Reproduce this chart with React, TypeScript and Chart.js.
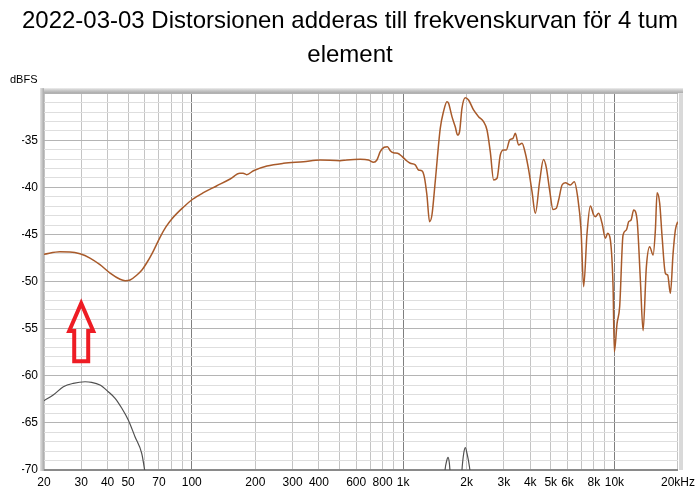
import React, { useEffect, useRef } from 'react';
import { Chart, registerables } from 'chart.js';

Chart.register(...registerables);

const TITLE_LINES = ['2022-03-03 Distorsionen adderas till frekvenskurvan för 4 tum', 'element'];
const Y_UNIT = 'dBFS';
const Y_MIN = -70;
const Y_MAX = -30;
const X_MIN = 20;
const X_MAX = 20000;

const X_GRID = [20, 30, 40, 50, 60, 70, 80, 90, 100, 200, 300, 400, 500, 600, 700, 800, 900,
  1000, 2000, 3000, 4000, 5000, 6000, 7000, 8000, 9000, 10000, 20000];
const X_DECADES = [100, 1000, 10000];
const X_LABEL_VALUES = [20, 30, 40, 50, 70, 100, 200, 300, 400, 600, 800, 1000, 2000, 3000, 4000, 5000, 6000, 8000, 10000, 20000];
const X_LABEL_TEXT = ['20', '30', '40', '50', '70', '100', '200', '300', '400', '600', '800', '1k', '2k', '3k', '4k', '5k', '6k', '8k', '10k', '20kHz'];

// Response (brown) curve
const RESP_FREQ = [20, 23.8, 26.5, 29.6, 33, 36.8, 41.1, 45.8, 48.4, 51.1, 55, 58, 61.3, 65, 70.8, 75.5, 80.5, 91.3, 101, 113.6, 131, 152, 169, 175, 182, 196, 227, 272, 338, 405, 504, 542, 627, 686, 725, 752, 780, 814, 844, 870, 901, 942, 988, 1043,
  1082, 1142, 1184, 1229, 1260, 1297, 1335, 1370, 1420, 1500, 1554, 1613, 1642, 1704, 1766, 1811, 1851, 1900, 1970, 2042, 2156, 2277, 2404, 2496, 2587, 2683, 2784, 2885, 2990, 3080, 3194, 3314, 3398, 3522, 3655, 3790, 3930, 4077, 4227, 4428, 4620, 4764, 4938, 5125, 5313, 5448, 5654, 5862, 6189, 6463, 6700, 6954, 7154, 7424, 7697, 7980, 8128, 8426, 8744, 9066, 9296, 9572, 9858, 9998, 10297, 10594, 10992, 11396, 11686, 11994, 12340, 12808, 13274, 13672, 14172, 14690, 15246, 15632, 15928, 16386, 16818, 17432, 17876, 18410, 18960, 19440, 19936];
const RESP_DB = [-47.1, -46.83, -46.85, -47.05, -47.5, -48.2, -49.1, -49.75, -49.9, -49.83, -49.3, -48.8, -48.0, -47.0, -45.3, -44.2, -43.35, -42.1, -41.26, -40.56, -39.85, -39.11, -38.5, -38.5, -38.65, -38.23, -37.73, -37.44, -37.27, -37.09, -37.17, -37.09, -37.02, -37.09, -37.33, -37.09, -36.21, -35.74, -35.68, -36.1, -36.32, -36.38, -36.7, -37.2,
  -37.44, -37.61, -38.15, -38.25, -38.86, -40.81, -43.64, -42.93, -39.39, -33.73, -31.96, -30.9, -31.07, -32.49, -33.56, -34.44, -34.09, -31.6, -30.48, -30.72, -31.78, -32.49, -33.03, -33.91, -36.21, -39.21, -39.03, -36.56, -36.03, -36.03, -34.97, -34.79, -34.26, -35.5, -35.32, -36.38, -38.15, -40.46, -42.75, -39.39, -37.05, -37.9, -40.28, -42.35, -42.22, -41.34, -39.75, -39.5, -39.75, -39.39, -40.99, -44.52, -50.54, -44.87, -41.97, -42.93, -43.11, -42.75, -43.81, -45.4, -44.87, -45.58, -50.54, -57.44, -54.43, -52.66, -45.05, -44.52, -43.64, -43.46, -42.4, -43.46, -49.83, -55.21, -48.42, -46.3, -47.18, -44.52, -40.56, -41.69, -45.23, -49.12, -49.3, -51.24, -47.0, -44.52, -43.64];

// Distortion (grey) curve; null = gap (below the axis)
const DIST_FREQ = [20, 22.1, 24.7, 27.5, 31.3, 33.6, 36.8, 40.3, 43.4, 46.7, 50.1, 53.9, 58, 59.7, 62, 300,
  1555, 1580, 1610, 1632, 1655, 1680, 1700, 1800,
  1870, 1900, 1935, 1970, 2010, 2060, 2110, 2140];
const DIST_DB = [-62.64, -62.04, -61.16, -60.8, -60.63, -60.69, -60.98, -61.69, -62.39, -63.45, -64.69, -66.46, -68.23, -69.82, -72.5, null,
  -72, -70, -69.0, -68.65, -69.2, -71, -72.5, null,
  -72.5, -70, -68.3, -67.63, -68.3, -69.6, -71.5, -73];

const ARROW_FREQ = 30;
const ARROW_TIP_DB = -52.3;
const ARROW_BASE_DB = -55.25;
const ARROW_END_DB = -58.45;

const FONT = 'Liberation Sans, Arial, sans-serif';

const framePlugin = {
  id: 'frameAndNotes',
  afterDatasetsDraw(chart: any) {
    const { ctx, chartArea, scales } = chart;
    const { left, right, top, bottom } = chartArea;
    ctx.save();
    // top band
    let g = ctx.createLinearGradient(0, top - 5, 0, top);
    g.addColorStop(0, '#e4e4e4');
    g.addColorStop(1, '#a9a9a9');
    ctx.fillStyle = g;
    ctx.fillRect(left - 4, top - 5, right - left + 9, 5);
    // left band
    g = ctx.createLinearGradient(left - 4, 0, left, 0);
    g.addColorStop(0, '#e4e4e4');
    g.addColorStop(1, '#a9a9a9');
    ctx.fillStyle = g;
    ctx.fillRect(left - 4, top - 5, 4, bottom - top + 6);
    // right band
    ctx.fillStyle = '#d9d9d9';
    ctx.fillRect(right + 1, top, 4, bottom - top);

    // arrow annotation
    const x = scales.x.getPixelForValue(ARROW_FREQ);
    const yt = scales.y.getPixelForValue(ARROW_TIP_DB);
    const yb = scales.y.getPixelForValue(ARROW_BASE_DB);
    const ye = scales.y.getPixelForValue(ARROW_END_DB);
    ctx.strokeStyle = '#ee1c24';
    ctx.lineWidth = 4;
    ctx.lineJoin = 'miter';
    ctx.beginPath();
    ctx.moveTo(x, yt);
    ctx.lineTo(x + 12, yb);
    ctx.lineTo(x + 7, yb);
    ctx.lineTo(x + 7, ye);
    ctx.lineTo(x - 7, ye);
    ctx.lineTo(x - 7, yb);
    ctx.lineTo(x - 12, yb);
    ctx.closePath();
    ctx.stroke();

    // unit label
    ctx.fillStyle = '#000';
    ctx.font = '11px ' + FONT;
    ctx.textAlign = 'left';
    ctx.textBaseline = 'middle';
    ctx.fillText(Y_UNIT, 10, top - 13);
    ctx.restore();
  },
};

export default function App() {
  const ref = useRef<HTMLCanvasElement | null>(null);
  useEffect(() => {
    if (!ref.current) return;
    const chart = new Chart(ref.current, {
      type: 'line',
      data: {
        datasets: [
          {
            data: DIST_FREQ.map((f, i) => ({ x: f, y: DIST_DB[i] })),
            borderColor: '#505050',
            borderWidth: 1.2,
            pointRadius: 0,
            cubicInterpolationMode: 'monotone',
            spanGaps: false,
          },
          {
            data: RESP_FREQ.map((f, i) => ({ x: f, y: RESP_DB[i] })),
            borderColor: '#a85a2a',
            borderWidth: 1.5,
            pointRadius: 0,
            cubicInterpolationMode: 'monotone',
          },
        ],
      } as any,
      options: {
        animation: false,
        responsive: true,
        maintainAspectRatio: false,
        devicePixelRatio: 1,
        layout: { padding: { left: 22, right: 22, top: 0, bottom: 0 } },
        plugins: {
          legend: { display: false },
          tooltip: { enabled: false },
          title: {
            display: true,
            text: TITLE_LINES,
            color: '#000',
            font: { family: FONT, size: 24, weight: 'normal', lineHeight: 1.4 },
            padding: { top: 5, bottom: 21 },
          },
        },
        scales: {
          x: {
            type: 'logarithmic',
            min: X_MIN,
            max: X_MAX,
            afterBuildTicks: (scale: any) => {
              scale.ticks = X_GRID.map((v) => ({ value: v }));
            },
            afterFit: (scale: any) => {
              scale.height = 25;
            },
            ticks: {
              autoSkip: false,
              maxRotation: 0,
              padding: 5,
              color: '#000',
              font: { family: FONT, size: 12 },
              callback: (v: any) => {
                const i = X_LABEL_VALUES.indexOf(Number(v));
                return i >= 0 ? X_LABEL_TEXT[i] : '';
              },
            },
            grid: {
              drawTicks: false,
              color: (c: any) => (X_DECADES.includes(c.tick?.value) ? '#7f7f7f' : '#c4c4c4'),
              lineWidth: 1,
            },
            border: { display: true, color: '#8a8a8a', width: 2 },
          },
          y: {
            type: 'linear',
            min: Y_MIN,
            max: Y_MAX,
            afterFit: (scale: any) => {
              scale.width = 22;
            },
            ticks: {
              stepSize: 1,
              autoSkip: false,
              padding: 6,
              color: '#000',
              font: { family: FONT, size: 12 },
              callback: (v: any) => {
                const n = Number(v);
                return n % 5 === 0 && n !== Y_MAX ? String(n) : '';
              },
            },
            grid: {
              drawTicks: false,
              color: (c: any) => (c.tick && c.tick.value % 5 === 0 ? '#b4b4b4' : '#dedede'),
            },
            border: { display: false },
          },
        },
      } as any,
      plugins: [framePlugin],
    });
    return () => chart.destroy();
  }, []);

  return (
    <div style={{ position: 'absolute', left: 0, top: 0, width: 700, height: 495, background: '#fff' }}>
      <canvas ref={ref} />
    </div>
  );
}
